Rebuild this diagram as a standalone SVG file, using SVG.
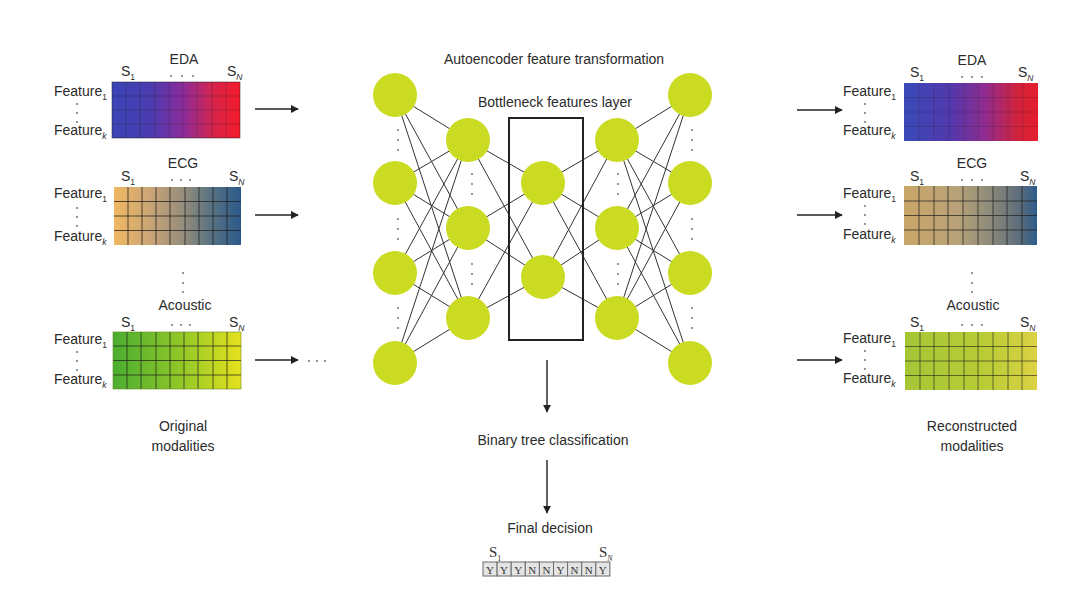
<svg xmlns="http://www.w3.org/2000/svg" width="1080" height="598" viewBox="0 0 1080 598">
<style>
.t{font-family:"Liberation Sans",Arial,sans-serif;font-size:14px;fill:#2b2b2b}
.c{text-anchor:middle}
.sub{font-size:8.5px}
.sf{font-family:"Liberation Serif",serif;fill:#333}
.grid{fill:none;stroke:#1e1e1e;stroke-width:1}
.edge{stroke:#333;stroke-width:1}
.node{fill:#cadb22}
.arr{stroke:#222;stroke-width:1.4;fill:none;marker-end:url(#ah)}
.dot{fill:#666}
.box{fill:#e4e4e4;stroke:#6a6a6a;stroke-width:1}
</style>
<defs>
<marker id="ah" viewBox="0 0 10 10" refX="9" refY="5" markerWidth="8" markerHeight="8" markerUnits="userSpaceOnUse" orient="auto">
<path d="M0,0 L10,5 L0,10 z" fill="#222"/>
</marker>
<linearGradient id="gEda" x1="0" x2="1" y1="0" y2="0">
<stop offset="0" stop-color="#3a44b6"/><stop offset="0.3" stop-color="#4a3cb0"/><stop offset="0.55" stop-color="#8a2c9c"/><stop offset="0.8" stop-color="#d8244a"/><stop offset="1" stop-color="#f51a2a"/>
</linearGradient>
<linearGradient id="gEdaR" x1="0" x2="1" y1="0" y2="0">
<stop offset="0" stop-color="#3a4ab8"/><stop offset="0.35" stop-color="#5238ac"/><stop offset="0.6" stop-color="#8e2c90"/><stop offset="0.85" stop-color="#d2223c"/><stop offset="1" stop-color="#e41e2c"/>
</linearGradient>
<linearGradient id="gEcg" x1="0" x2="1" y1="0" y2="0">
<stop offset="0" stop-color="#f0b862"/><stop offset="0.3" stop-color="#c8a478"/><stop offset="0.55" stop-color="#948c7c"/><stop offset="0.75" stop-color="#5c7482"/><stop offset="1" stop-color="#2c5a8a"/>
</linearGradient>
<linearGradient id="gEcgR" x1="0" x2="1" y1="0" y2="0">
<stop offset="0" stop-color="#caa668"/><stop offset="0.4" stop-color="#b8a278"/><stop offset="0.65" stop-color="#8c8a7a"/><stop offset="0.88" stop-color="#5a6c7c"/><stop offset="1" stop-color="#2c5c8e"/>
</linearGradient>
<linearGradient id="gAco" x1="0" x2="1" y1="0" y2="0">
<stop offset="0" stop-color="#4aad30"/><stop offset="0.5" stop-color="#8cc628"/><stop offset="1" stop-color="#e6e21e"/>
</linearGradient>
<linearGradient id="gAcoR" x1="0" x2="1" y1="0" y2="0">
<stop offset="0" stop-color="#a6c636"/><stop offset="0.6" stop-color="#b8cc36"/><stop offset="1" stop-color="#dcd244"/>
</linearGradient>
</defs>
<rect width="1080" height="598" fill="#ffffff"/>

<!-- Left: Original modalities -->
<g id="left-eda">
<rect x="112" y="82" width="128" height="56" fill="url(#gEda)"/>
<path class="grid" opacity="0.25" d="M126,82V138M140,82V138M155,82V138M169,82V138M183,82V138M197,82V138M212,82V138M226,82V138M112,96H240M112,110H240M112,124H240"/>
<rect x="112" y="82" width="128" height="56" fill="none" stroke="#222" stroke-opacity="0.5"/>
<text class="t c" x="184" y="64">EDA</text>
<text class="t" x="121" y="76">S<tspan class="sub" dy="4">1</tspan></text>
<text class="t" x="227" y="76">S<tspan class="sub" dy="4" font-style="italic">N</tspan></text>
<circle class="dot" cx="171" cy="76" r="0.9"/><circle class="dot" cx="182" cy="76" r="0.9"/><circle class="dot" cx="193" cy="76" r="0.9"/>
<text class="t" x="54" y="96">Feature<tspan class="sub" dy="4">1</tspan></text>
<text class="t" x="54" y="135">Feature<tspan class="sub" dy="4" font-style="italic">k</tspan></text>
<circle class="dot" cx="77" cy="104" r="0.9"/><circle class="dot" cx="77" cy="113" r="0.9"/><circle class="dot" cx="77" cy="122" r="0.9"/>
</g>

<g id="left-ecg">
<rect x="114" y="187" width="127" height="58" fill="url(#gEcg)"/>
<path class="grid" opacity="0.75" d="M128,187V245M142,187V245M156,187V245M170,187V245M185,187V245M199,187V245M213,187V245M227,187V245M114,201.5H241M114,216H241M114,230.5H241"/>
<text class="t c" x="183" y="168">ECG</text>
<text class="t" x="121" y="181">S<tspan class="sub" dy="4">1</tspan></text>
<text class="t" x="229" y="181">S<tspan class="sub" dy="4" font-style="italic">N</tspan></text>
<circle class="dot" cx="172" cy="180" r="0.9"/><circle class="dot" cx="181" cy="180" r="0.9"/><circle class="dot" cx="190" cy="180" r="0.9"/>
<text class="t" x="54" y="198">Feature<tspan class="sub" dy="4">1</tspan></text>
<text class="t" x="54" y="241">Feature<tspan class="sub" dy="4" font-style="italic">k</tspan></text>
<circle class="dot" cx="77" cy="208" r="0.9"/><circle class="dot" cx="77" cy="217" r="0.9"/><circle class="dot" cx="77" cy="226" r="0.9"/>
</g>

<g id="left-dots">
<circle class="dot" cx="183" cy="273" r="0.9"/><circle class="dot" cx="183" cy="283" r="0.9"/><circle class="dot" cx="183" cy="292" r="0.9"/>
</g>

<g id="left-acoustic">
<rect x="113" y="332" width="128" height="57" fill="url(#gAco)"/>
<path class="grid" opacity="0.7" d="M127,332V389M141,332V389M156,332V389M170,332V389M184,332V389M198,332V389M213,332V389M227,332V389M113,346H241M113,360.5H241M113,375H241"/>
<rect x="113" y="332" width="128" height="57" fill="none" stroke="#6a8a20" stroke-opacity="0.6"/>
<text class="t c" x="185" y="310">Acoustic</text>
<text class="t" x="121" y="327">S<tspan class="sub" dy="4">1</tspan></text>
<text class="t" x="229" y="327">S<tspan class="sub" dy="4" font-style="italic">N</tspan></text>
<circle class="dot" cx="172" cy="325" r="0.9"/><circle class="dot" cx="181" cy="325" r="0.9"/><circle class="dot" cx="190" cy="325" r="0.9"/>
<text class="t" x="54" y="344">Feature<tspan class="sub" dy="4">1</tspan></text>
<text class="t" x="54" y="384">Feature<tspan class="sub" dy="4" font-style="italic">k</tspan></text>
<circle class="dot" cx="77" cy="352" r="0.9"/><circle class="dot" cx="77" cy="361" r="0.9"/><circle class="dot" cx="77" cy="370" r="0.9"/>
</g>

<g id="label-original">
<text class="t c" x="183" y="431">Original</text>
<text class="t c" x="183" y="451">modalities</text>
</g>

<!-- Right: Reconstructed modalities -->
<g id="right-eda">
<rect x="904" y="83" width="134" height="58" fill="url(#gEdaR)"/>
<path class="grid" opacity="0.2" d="M919,83V141M934,83V141M949,83V141M964,83V141M978,83V141M993,83V141M1008,83V141M1023,83V141M904,97.5H1038M904,112H1038M904,126.5H1038"/>
<text class="t c" x="972" y="65">EDA</text>
<text class="t" x="910" y="77">S<tspan class="sub" dy="4">1</tspan></text>
<text class="t" x="1018" y="77">S<tspan class="sub" dy="4" font-style="italic">N</tspan></text>
<circle class="dot" cx="962" cy="77" r="0.9"/><circle class="dot" cx="972" cy="77" r="0.9"/><circle class="dot" cx="982" cy="77" r="0.9"/>
<text class="t" x="843" y="96">Feature<tspan class="sub" dy="4">1</tspan></text>
<text class="t" x="843" y="135">Feature<tspan class="sub" dy="4" font-style="italic">k</tspan></text>
<circle class="dot" cx="865" cy="104" r="0.9"/><circle class="dot" cx="865" cy="113" r="0.9"/><circle class="dot" cx="865" cy="122" r="0.9"/>
</g>

<g id="right-ecg">
<rect x="904" y="186" width="133" height="59" fill="url(#gEcgR)"/>
<path class="grid" opacity="0.7" d="M919,186V245M934,186V245M948,186V245M963,186V245M978,186V245M993,186V245M1007,186V245M1022,186V245M904,201H1037M904,215.5H1037M904,230H1037"/>
<text class="t c" x="972" y="168">ECG</text>
<text class="t" x="910" y="181">S<tspan class="sub" dy="4">1</tspan></text>
<text class="t" x="1020" y="181">S<tspan class="sub" dy="4" font-style="italic">N</tspan></text>
<circle class="dot" cx="962" cy="180" r="0.9"/><circle class="dot" cx="972" cy="180" r="0.9"/><circle class="dot" cx="982" cy="180" r="0.9"/>
<text class="t" x="843" y="198">Feature<tspan class="sub" dy="4">1</tspan></text>
<text class="t" x="843" y="239">Feature<tspan class="sub" dy="4" font-style="italic">k</tspan></text>
<circle class="dot" cx="865" cy="206" r="0.9"/><circle class="dot" cx="865" cy="215" r="0.9"/><circle class="dot" cx="865" cy="224" r="0.9"/>
</g>

<g id="right-dots">
<circle class="dot" cx="972" cy="273" r="0.9"/><circle class="dot" cx="972" cy="283" r="0.9"/><circle class="dot" cx="972" cy="292" r="0.9"/>
</g>

<g id="right-acoustic">
<rect x="905" y="332" width="132" height="58" fill="url(#gAcoR)"/>
<path class="grid" opacity="0.6" d="M920,332V390M934,332V390M949,332V390M964,332V390M978,332V390M993,332V390M1008,332V390M1022,332V390M905,346.5H1037M905,361H1037M905,375.5H1037"/>
<text class="t c" x="973" y="310">Acoustic</text>
<text class="t" x="910" y="327">S<tspan class="sub" dy="4">1</tspan></text>
<text class="t" x="1020" y="327">S<tspan class="sub" dy="4" font-style="italic">N</tspan></text>
<circle class="dot" cx="962" cy="325" r="0.9"/><circle class="dot" cx="972" cy="325" r="0.9"/><circle class="dot" cx="982" cy="325" r="0.9"/>
<text class="t" x="843" y="343">Feature<tspan class="sub" dy="4">1</tspan></text>
<text class="t" x="843" y="383">Feature<tspan class="sub" dy="4" font-style="italic">k</tspan></text>
<circle class="dot" cx="865" cy="351" r="0.9"/><circle class="dot" cx="865" cy="360" r="0.9"/><circle class="dot" cx="865" cy="369" r="0.9"/>
</g>

<g id="label-reconstructed">
<text class="t c" x="972" y="431">Reconstructed</text>
<text class="t c" x="972" y="451">modalities</text>
</g>

<!-- Connectors -->
<g id="connectors">
<line class="arr" x1="255" y1="109" x2="298" y2="109"/>
<line class="arr" x1="255" y1="215" x2="298" y2="215"/>
<line class="arr" x1="255" y1="360" x2="298" y2="360"/>
<line class="arr" x1="797" y1="110" x2="842" y2="110"/>
<line class="arr" x1="797" y1="215" x2="842" y2="215"/>
<line class="arr" x1="797" y1="360" x2="842" y2="360"/>
<line class="arr" x1="547" y1="360" x2="547" y2="412"/>
<line class="arr" x1="547" y1="460" x2="547" y2="513"/>
<g id="nn-edges">
<line class="edge" x1="395" y1="95" x2="468" y2="140"/><line class="edge" x1="395" y1="95" x2="468" y2="228"/><line class="edge" x1="395" y1="95" x2="468" y2="318"/>
<line class="edge" x1="395" y1="183" x2="468" y2="140"/><line class="edge" x1="395" y1="183" x2="468" y2="228"/><line class="edge" x1="395" y1="183" x2="468" y2="318"/>
<line class="edge" x1="395" y1="273" x2="468" y2="140"/><line class="edge" x1="395" y1="273" x2="468" y2="228"/><line class="edge" x1="395" y1="273" x2="468" y2="318"/>
<line class="edge" x1="395" y1="363" x2="468" y2="140"/><line class="edge" x1="395" y1="363" x2="468" y2="228"/><line class="edge" x1="395" y1="363" x2="468" y2="318"/>
<line class="edge" x1="468" y1="140" x2="543" y2="183"/><line class="edge" x1="468" y1="140" x2="543" y2="277"/>
<line class="edge" x1="468" y1="228" x2="543" y2="183"/><line class="edge" x1="468" y1="228" x2="543" y2="277"/>
<line class="edge" x1="468" y1="318" x2="543" y2="183"/><line class="edge" x1="468" y1="318" x2="543" y2="277"/>
<line class="edge" x1="543" y1="183" x2="617" y2="140"/><line class="edge" x1="543" y1="183" x2="617" y2="228"/><line class="edge" x1="543" y1="183" x2="617" y2="318"/>
<line class="edge" x1="543" y1="277" x2="617" y2="140"/><line class="edge" x1="543" y1="277" x2="617" y2="228"/><line class="edge" x1="543" y1="277" x2="617" y2="318"/>
<line class="edge" x1="617" y1="140" x2="690" y2="95"/><line class="edge" x1="617" y1="140" x2="690" y2="183"/><line class="edge" x1="617" y1="140" x2="690" y2="273"/><line class="edge" x1="617" y1="140" x2="690" y2="363"/>
<line class="edge" x1="617" y1="228" x2="690" y2="95"/><line class="edge" x1="617" y1="228" x2="690" y2="183"/><line class="edge" x1="617" y1="228" x2="690" y2="273"/><line class="edge" x1="617" y1="228" x2="690" y2="363"/>
<line class="edge" x1="617" y1="318" x2="690" y2="95"/><line class="edge" x1="617" y1="318" x2="690" y2="183"/><line class="edge" x1="617" y1="318" x2="690" y2="273"/><line class="edge" x1="617" y1="318" x2="690" y2="363"/>
</g>
</g>

<g id="trail-dots">
<circle class="dot" cx="309" cy="361" r="0.9"/><circle class="dot" cx="317" cy="361" r="0.9"/><circle class="dot" cx="325" cy="361" r="0.9"/>
</g>

<!-- Autoencoder -->
<g id="autoencoder-title"><text class="t c" x="554" y="64">Autoencoder feature transformation</text></g>
<g id="bottleneck-label"><text class="t c" x="555" y="107">Bottleneck features layer</text></g>

<g id="layer1">
<circle class="node" cx="395" cy="95" r="22"/><circle class="node" cx="395" cy="183" r="22"/><circle class="node" cx="395" cy="273" r="22"/><circle class="node" cx="395" cy="363" r="22"/>
<circle class="dot" cx="398" cy="130" r="0.9"/><circle class="dot" cx="398" cy="140" r="0.9"/><circle class="dot" cx="398" cy="150" r="0.9"/>
<circle class="dot" cx="398" cy="219" r="0.9"/><circle class="dot" cx="398" cy="229" r="0.9"/><circle class="dot" cx="398" cy="239" r="0.9"/>
<circle class="dot" cx="398" cy="308" r="0.9"/><circle class="dot" cx="398" cy="318" r="0.9"/><circle class="dot" cx="398" cy="328" r="0.9"/>
</g>
<g id="layer2">
<circle class="node" cx="468" cy="140" r="22"/><circle class="node" cx="468" cy="228" r="22"/><circle class="node" cx="468" cy="318" r="22"/>
<circle class="dot" cx="472" cy="174" r="0.9"/><circle class="dot" cx="472" cy="184" r="0.9"/><circle class="dot" cx="472" cy="194" r="0.9"/>
<circle class="dot" cx="472" cy="264" r="0.9"/><circle class="dot" cx="472" cy="274" r="0.9"/><circle class="dot" cx="472" cy="284" r="0.9"/>
</g>
<g id="layer3">
<circle class="node" cx="543" cy="183" r="22"/><circle class="node" cx="543" cy="277" r="22"/>
</g>
<g id="layer4">
<circle class="node" cx="617" cy="140" r="22"/><circle class="node" cx="617" cy="228" r="22"/><circle class="node" cx="617" cy="318" r="22"/>
<circle class="dot" cx="618" cy="174" r="0.9"/><circle class="dot" cx="618" cy="184" r="0.9"/><circle class="dot" cx="618" cy="194" r="0.9"/>
<circle class="dot" cx="618" cy="264" r="0.9"/><circle class="dot" cx="618" cy="274" r="0.9"/><circle class="dot" cx="618" cy="284" r="0.9"/>
</g>
<g id="layer5">
<circle class="node" cx="690" cy="95" r="22"/><circle class="node" cx="690" cy="183" r="22"/><circle class="node" cx="690" cy="273" r="22"/><circle class="node" cx="690" cy="363" r="22"/>
<circle class="dot" cx="692" cy="130" r="0.9"/><circle class="dot" cx="692" cy="140" r="0.9"/><circle class="dot" cx="692" cy="150" r="0.9"/>
<circle class="dot" cx="692" cy="219" r="0.9"/><circle class="dot" cx="692" cy="229" r="0.9"/><circle class="dot" cx="692" cy="239" r="0.9"/>
<circle class="dot" cx="692" cy="308" r="0.9"/><circle class="dot" cx="692" cy="318" r="0.9"/><circle class="dot" cx="692" cy="328" r="0.9"/>
</g>
<g id="bottleneck-box">
<rect x="509" y="118" width="74" height="222" fill="none" stroke="#222" stroke-width="2"/>
</g>

<g id="binary-tree"><text class="t c" x="553" y="445">Binary tree classification</text></g>

<g id="final-decision">
<text class="t c" x="550" y="533">Final decision</text>
<text class="sf" x="489" y="557" font-size="15">S<tspan font-size="8" dy="4">1</tspan></text>
<text class="sf" x="599" y="557" font-size="15">S<tspan font-size="8" dy="4" font-style="italic">N</tspan></text>
<rect class="box" x="483" y="562" width="14.1" height="14"/>
<rect class="box" x="497.1" y="562" width="14.1" height="14"/>
<rect class="box" x="511.2" y="562" width="14.1" height="14"/>
<rect class="box" x="525.3" y="562" width="14.1" height="14"/>
<rect class="box" x="539.4" y="562" width="14.1" height="14"/>
<rect class="box" x="553.5" y="562" width="14.1" height="14"/>
<rect class="box" x="567.6" y="562" width="14.1" height="14"/>
<rect class="box" x="581.7" y="562" width="14.1" height="14"/>
<rect class="box" x="595.8" y="562" width="14.1" height="14"/>
<g class="sf" font-size="11" text-anchor="middle">
<text x="490" y="573.5">Y</text><text x="504.1" y="573.5">Y</text><text x="518.2" y="573.5">Y</text><text x="532.3" y="573.5">N</text><text x="546.4" y="573.5">N</text><text x="560.5" y="573.5">Y</text><text x="574.6" y="573.5">N</text><text x="588.7" y="573.5">N</text><text x="602.8" y="573.5">Y</text>
</g>
</g>
</svg>
